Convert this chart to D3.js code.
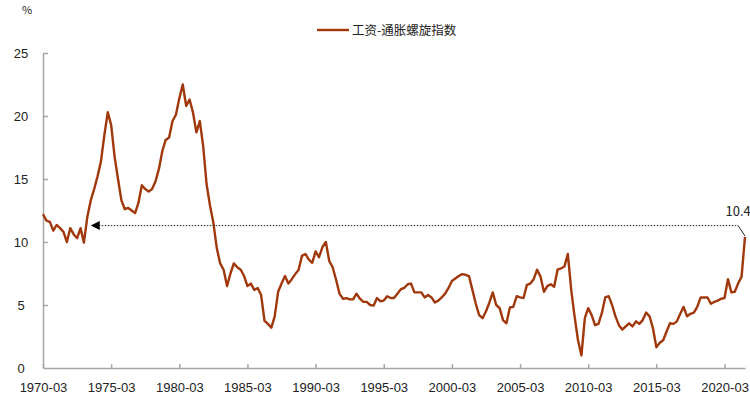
<!DOCTYPE html>
<html>
<head>
<meta charset="utf-8">
<script src="https://cdn.jsdelivr.net/npm/d3@7"></script>
<style>
  body { margin: 0; background: #fff; }
  svg { display: block; font-family: "Noto Sans CJK SC", "Noto Sans", sans-serif; }
</style>
</head>
<body>
<script>
// 图表尺寸
var larg = 750, haut = 398;

// 季度序列起点 (1970-03), 每季一个点
var debut = "1970-03";
var serie = "工资-通胀螺旋指数";

// 指数值 (%), 按季度
var valeurs = [
  12.2, 11.7, 11.6, 10.9, 11.35, 11.1, 10.8, 10.0, 11.1, 10.6,
  10.3, 11.1, 9.95, 12.0, 13.3, 14.2, 15.2, 16.4, 18.5, 20.3,
  19.3, 16.8, 15.0, 13.3, 12.6, 12.7, 12.5, 12.3, 13.1, 14.5,
  14.2, 14.0, 14.2, 14.8, 15.8, 17.2, 18.1, 18.3, 19.6, 20.1,
  21.4, 22.5, 20.8, 21.3, 20.3, 18.7, 19.6, 17.6, 14.6, 12.9,
  11.5, 9.5, 8.3, 7.8, 6.5, 7.5, 8.3, 8.0, 7.8, 7.3,
  6.5, 6.7, 6.2, 6.35, 5.8, 3.75, 3.5, 3.2, 4.1, 6.05,
  6.7, 7.3, 6.7, 7.05, 7.45, 7.8, 8.9, 9.05, 8.6, 8.35,
  9.25, 8.8, 9.6, 10.0, 8.5, 8.0, 7.0, 5.9, 5.5, 5.55,
  5.45, 5.45, 5.9, 5.5, 5.25, 5.25, 5.0, 4.95, 5.55, 5.3,
  5.35, 5.7, 5.55, 5.55, 5.9, 6.25, 6.35, 6.65, 6.7, 6.0,
  6.0, 6.0, 5.6, 5.8, 5.6, 5.2, 5.35, 5.6, 5.9, 6.35,
  6.9, 7.1, 7.3, 7.45, 7.4, 7.3, 6.2, 5.1, 4.2, 3.95,
  4.5, 5.2, 6.0, 5.0, 4.75, 3.8, 3.55, 4.8, 4.85, 5.7,
  5.6, 5.55, 6.6, 6.7, 7.05, 7.8, 7.25, 6.05, 6.5, 6.65,
  6.45, 7.8, 7.9, 8.05, 9.05, 6.2, 4.1, 2.2, 1.0, 3.95,
  4.75, 4.2, 3.4, 3.5, 4.35, 5.6, 5.7, 5.0, 4.1, 3.4,
  3.05, 3.3, 3.55, 3.3, 3.7, 3.5, 3.8, 4.4, 4.1, 3.15,
  1.65, 2.0, 2.2, 2.9, 3.55, 3.5, 3.7, 4.3, 4.85, 4.1,
  4.3, 4.4, 4.85, 5.6, 5.6, 5.6, 5.1, 5.25, 5.35, 5.5,
  5.55, 7.05, 6.0, 6.05, 6.7, 7.25, 10.4
];

// 刻度
var xTicks = ["1970-03", "1975-03", "1980-03", "1985-03", "1990-03", "1995-03",
              "2000-03", "2005-03", "2010-03", "2015-03", "2020-03"];
var yTicks = [0, 5, 10, 15, 20, 25];

// 标注: 虚线水平位置与起止
var annNiveau = 11.3, annDe = "1973-09", annA = "2021-03";

var parse = d3.timeParse("%Y-%m");
var d0 = parse(debut);
var donnees = valeurs.map(function(v, i) {
  return { date: d3.timeMonth.offset(d0, 3 * i), v: v };
});
var dernier = donnees[donnees.length - 1];

var x = d3.scaleTime()
  .domain([d0, dernier.date])
  .range([43, 745]);
var y = d3.scaleLinear()
  .domain([0, 25])
  .range([368, 53]);

var svg = d3.select("body")
  .append("svg")
  .attr("width", larg)
  .attr("height", haut);

// 轴
var axeX = svg.append("g")
  .attr("transform", "translate(0,368)")
  .call(d3.axisBottom(x)
    .tickValues(xTicks.map(parse))
    .tickFormat(d3.timeFormat("%Y-%m"))
    .tickSizeInner(-4).tickSizeOuter(0));
axeX.selectAll("text").attr("y", 15).attr("font-size", 13).attr("fill", "#222");

var axeY = svg.append("g")
  .attr("transform", "translate(43,0)")
  .call(d3.axisLeft(y)
    .tickValues(yTicks)
    .tickSizeInner(-5).tickSizeOuter(0));
axeY.selectAll("text").attr("x", -22).attr("text-anchor", "middle")
  .attr("font-size", 13).attr("fill", "#222");
axeY.selectAll(".tick").filter(function(d) { return d === 0; }).select("line").remove();

svg.selectAll(".domain, .tick line")
  .attr("stroke", "#a6a6a6")
  .attr("stroke-width", 1.5);

svg.append("text")
  .attr("x", 27).attr("y", 14)
  .attr("text-anchor", "middle")
  .attr("font-size", 11).attr("fill", "#222")
  .text("%");

// 曲线
svg.append("path")
  .datum(donnees)
  .attr("fill", "none")
  .attr("stroke", "#a0380c")
  .attr("stroke-width", 2.4)
  .attr("stroke-linejoin", "round")
  .attr("d", d3.line()
    .x(function(d) { return x(d.date); })
    .y(function(d) { return y(d.v); }));

// 标注
var ax0 = x(parse(annDe)), ax1 = x(parse(annA)), ay = y(annNiveau);
svg.append("line")
  .attr("x1", ax0 + 8).attr("x2", ax1)
  .attr("y1", ay).attr("y2", ay)
  .attr("stroke", "#222").attr("stroke-width", 1)
  .attr("stroke-dasharray", "1.5,1.5");
svg.append("path")
  .attr("d", "M" + ax0 + "," + ay + "L" + (ax0 + 9) + "," + (ay - 4.5) + "L" + (ax0 + 9) + "," + (ay + 4.5) + "Z")
  .attr("fill", "#000");
svg.append("line")
  .attr("x1", ax1).attr("y1", ay)
  .attr("x2", x(dernier.date)).attr("y2", y(dernier.v) - 1)
  .attr("stroke", "#222").attr("stroke-width", 1);
svg.append("text")
  .attr("x", ax1).attr("y", 216)
  .attr("text-anchor", "middle")
  .attr("font-size", 13).attr("fill", "#222")
  .text(dernier.v.toFixed(1));

// 图例
svg.append("line")
  .attr("x1", 317).attr("x2", 349)
  .attr("y1", 30).attr("y2", 30)
  .attr("stroke", "#a0380c").attr("stroke-width", 2.4);
svg.append("text")
  .attr("x", 352).attr("y", 34.5)
  .attr("font-size", 12.5).attr("fill", "#222")
  .text(serie);
</script>
</body>
</html>
